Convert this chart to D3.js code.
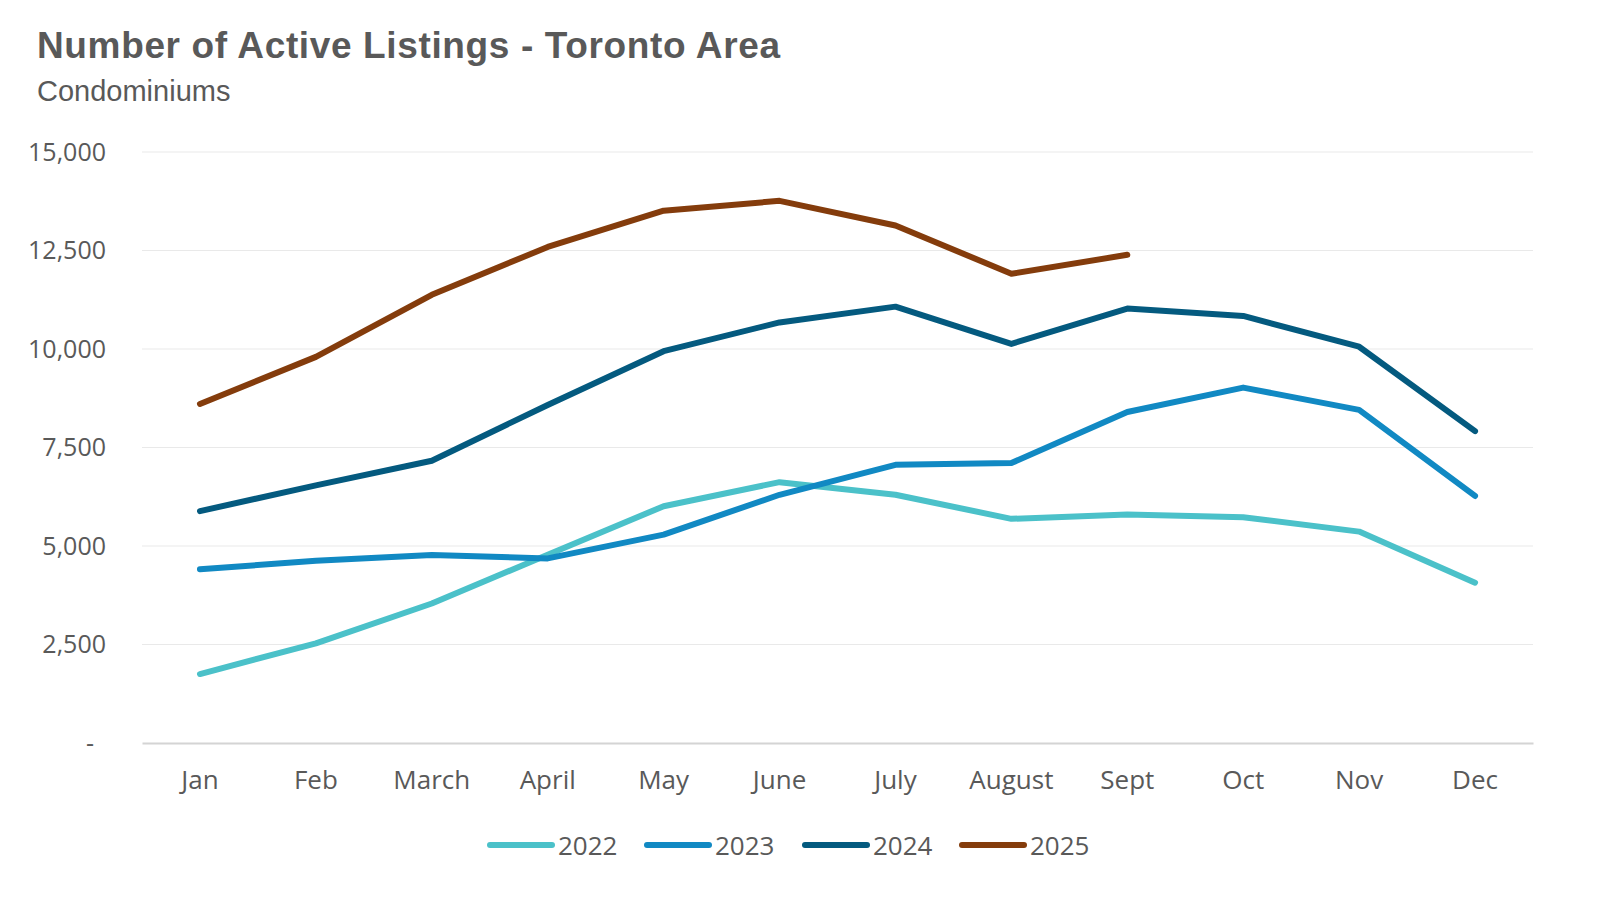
<!DOCTYPE html>
<html>
<head>
<meta charset="utf-8">
<script src="https://cdn.jsdelivr.net/npm/d3@7"></script>
<style>
  body { margin: 0; background: #fff; }
  text { fill: #595959; }
</style>
</head>
<body>
<svg width="1600" height="909"></svg>
<script>
const months = ["Jan", "Feb", "March", "April", "May", "June", "July", "August", "Sept", "Oct", "Nov", "Dec"];
const yearNames = ["2022", "2023", "2024", "2025"];
const y2022 = [1750, 2530, 3540, 4780, 6010, 6620, 6300, 5690, 5800, 5730, 5365, 4070];
const y2023 = [4410, 4625, 4770, 4685, 5290, 6300, 7060, 7105, 8400, 9020, 8455, 6270];
const y2024 = [5885, 6540, 7165, 8580, 9945, 10675, 11075, 10130, 11025, 10840, 10058, 7915];
const y2025 = [8605, 9800, 11375, 12590, 13510, 13760, 13135, 11910, 12390];
const yTicks = [0, 2500, 5000, 7500, 10000, 12500, 15000];
const colors = ["#4bc1c9", "#1189c3", "#045a7f", "#843c0c"];

const series = [y2022, y2023, y2024, y2025];

const svg = d3.select("svg"),
  margin = { left: 142, right: 67, top: 152, bottom: 166 },
  width = +svg.attr("width"),
  height = +svg.attr("height");

const x = d3.scaleBand()
  .domain(months)
  .range([margin.left, width - margin.right]);

const y = d3.scaleLinear()
  .domain([0, 15000])
  .range([height - margin.bottom, margin.top]);

// title
svg.append("text")
  .attr("x", 37).attr("y", 58)
  .attr("textLength", 743)
  .attr("lengthAdjust", "spacing")
  .style("font-family", "Liberation Sans, Arial, sans-serif")
  .style("font-weight", "bold")
  .style("font-size", "37px")
  .text("Number of Active Listings - Toronto Area");

svg.append("text")
  .attr("x", 37).attr("y", 101)
  .style("font-family", "Liberation Sans, Arial, sans-serif")
  .style("font-size", "29px")
  .text("Condominiums");

// grid
svg.append("g")
  .selectAll("line")
  .data(yTicks.filter(d => d > 0))
  .join("line")
  .attr("x1", margin.left).attr("x2", width - margin.right)
  .attr("y1", d => y(d)).attr("y2", d => y(d))
  .attr("stroke", "#e9e9e9")
  .attr("stroke-width", 1.2);

// y axis labels
const yAxis = d3.axisLeft(y)
  .tickValues(yTicks)
  .tickSize(0)
  .tickPadding(36)
  .tickFormat(d => d === 0 ? "-" : d3.format(",")(d));

svg.append("g")
  .attr("transform", `translate(${margin.left},0)`)
  .call(yAxis)
  .call(g => g.select(".domain").remove())
  .selectAll("text")
  .style("font-family", "Open Sans, sans-serif")
  .style("font-size", "25px")
  .attr("fill", "#595959")
  .attr("dx", d => d === 0 ? -12 : 0);

// x axis
const xAxis = d3.axisBottom(x).tickSize(0).tickPadding(28);
svg.append("g")
  .attr("transform", `translate(0,${y(0)})`)
  .call(xAxis)
  .call(g => g.select(".domain").attr("stroke", "#d4d4d4").attr("stroke-width", 2))
  .selectAll("text")
  .style("font-family", "Open Sans, sans-serif")
  .style("font-size", "26px")
  .attr("fill", "#595959");

// lines
const line = d3.line()
  .x((d, i) => x(months[i]) + x.bandwidth() / 2)
  .y(d => y(d));

svg.append("g")
  .selectAll("path")
  .data(series)
  .join("path")
  .attr("d", d => line(d))
  .attr("fill", "none")
  .attr("stroke", (d, i) => colors[i])
  .attr("stroke-width", 6)
  .attr("stroke-linecap", "round")
  .attr("stroke-linejoin", "round");

// legend
const legendX = [490, 647, 805, 962];
const legend = svg.append("g")
  .selectAll("g")
  .data(yearNames)
  .join("g")
  .attr("transform", (d, i) => `translate(${legendX[i]},845)`);

legend.append("line")
  .attr("x1", 0).attr("x2", 62)
  .attr("stroke", (d, i) => colors[i])
  .attr("stroke-width", 6)
  .attr("stroke-linecap", "round");

legend.append("text")
  .attr("x", 68).attr("y", 10)
  .style("font-family", "Open Sans, sans-serif")
  .style("font-size", "26px")
  .text(d => d);
</script>
</body>
</html>
